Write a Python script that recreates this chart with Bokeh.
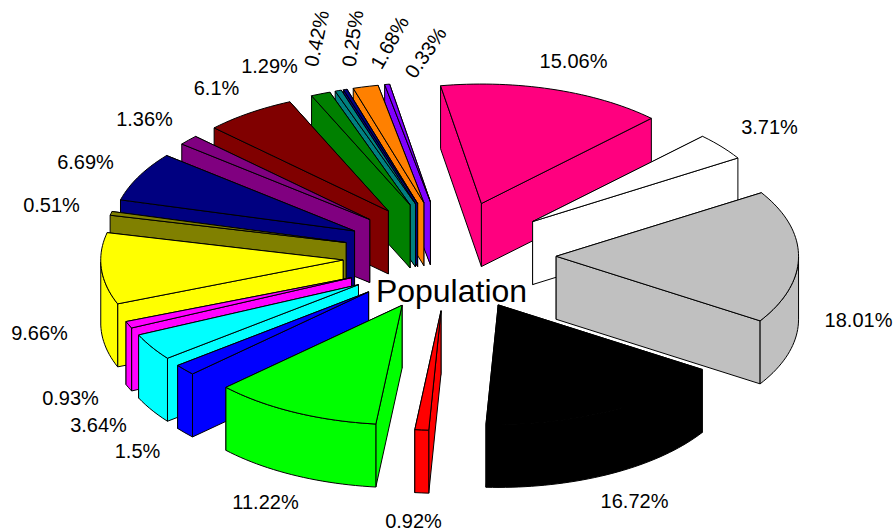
import numpy as np
from bokeh.plotting import figure
from bokeh.models import Range1d, ColumnDataSource
from bokeh.core.properties import value
from bokeh.embed import file_html
from bokeh.resources import INLINE

title = "Population"
shares = [15.06, 3.71, 18.01, 16.72, 0.92, 11.22, 1.5, 3.64, 0.93, 9.66,
          0.51, 6.69, 1.36, 6.1, 1.29, 0.42, 0.25, 1.68, 0.33]
labels = ["15.06%", "3.71%", "18.01%", "16.72%", "0.92%", "11.22%", "1.5%", "3.64%", "0.93%", "9.66%",
          "0.51%", "6.69%", "1.36%", "6.1%", "1.29%", "0.42%", "0.25%", "1.68%", "0.33%"]
colors = ["#FF007F", "#FFFFFF", "#C0C0C0", "#000000", "#FF0000", "#00FF00", "#0000FF", "#00FFFF", "#FF00FF",
          "#FFFF00", "#808000", "#000080", "#800080", "#800000", "#008000", "#008080", "#000080", "#FF8000", "#8000FF"]

# Text placement (page pixels) and rotation
label_x = [573, 769, 858, 634, 413, 265, 137, 98, 70, 39, 51, 85, 144, 216, 269, 316, 352, 389, 425]
label_y = [60, 126, 319, 500, 520, 501, 450, 424, 397, 332, 204, 161, 118, 87, 65, 38, 38, 42, 52]
label_rot = [0, 0, 0, 0, 0, 0, 0, 0, 0, 0, 0, 0, 0, 0, 0, 78, 82, 60, 55]

# Projection of the exploded pie
CX, CY, RX, RY, H = 449.0, 255.5, 242.4, 119.5, 63.0
EXPLODE_X, EXPLODE_Y = 0.44, 0.46
START = -9.7

sh = np.array(shares) / sum(shares) * 360.0
edges = START + np.concatenate([[0], np.cumsum(sh)])

order = []
for i in range(len(sh)):
    a0, a1 = edges[i], edges[i + 1]
    mid = np.radians((a0 + a1) / 2)
    ax = CX + EXPLODE_X * RX * np.sin(mid)
    ay = CY - EXPLODE_Y * RY * np.cos(mid)
    n = max(3, int((a1 - a0) / 1.5))
    th = np.linspace(a0, a1, n)
    ex = ax + RX * np.sin(np.radians(th))
    ey = ay - RY * np.cos(np.radians(th))
    order.append((ay, i, ax, ay, ex, ey, th))

order.sort(key=lambda o: o[0])
xs, ys, fill = [], [], []
for _, i, ax, ay, ex, ey, th in order:
    c = colors[i]
    walls = []
    for k in (0, -1):
        walls.append(([ax, ex[k], ex[k], ax], [ay, ey[k], ey[k] + H, ay + H]))
    walls.sort(key=lambda w: w[1][1])
    for w in walls:
        xs.append(w[0]); ys.append(w[1]); fill.append(c)
    mask = np.cos(np.radians(th)) < 0
    if mask.sum() >= 2:
        wx, wy = ex[mask], ey[mask]
        xs.append(list(wx) + list(wx[::-1]))
        ys.append(list(wy) + list(wy[::-1] + H))
        fill.append(c)
    xs.append([ax] + list(ex))
    ys.append([ay] + list(ey))
    fill.append(c)

W, Ht = 893, 532
p = figure(width=W, height=Ht, output_backend="svg", toolbar_location=None,
           x_range=Range1d(0, W), y_range=Range1d(Ht, 0), min_border=0)
p.xaxis.visible = False
p.yaxis.visible = False
p.grid.visible = False
p.outline_line_color = None
p.background_fill_color = "#FFFFFF"

p.patches(xs="xs", ys="ys", fill_color="fill", line_color="#000000", line_width=1,
          line_join="round", source=ColumnDataSource(dict(xs=xs, ys=ys, fill=fill)))

p.text(x="x", y="y", text="t", angle="r", angle_units="deg", text_align="center", text_baseline="middle",
       text_font=value("Liberation Sans"), text_font_size="20px", text_color="#000000",
       source=ColumnDataSource(dict(x=label_x, y=label_y, t=labels, r=label_rot)))

p.text(x=[451], y=[290], text=[title], text_align="center", text_baseline="middle",
       text_font=value("Liberation Sans"), text_font_size="32px", text_color="#000000")

open("out.html", "w").write(file_html(p, INLINE))
